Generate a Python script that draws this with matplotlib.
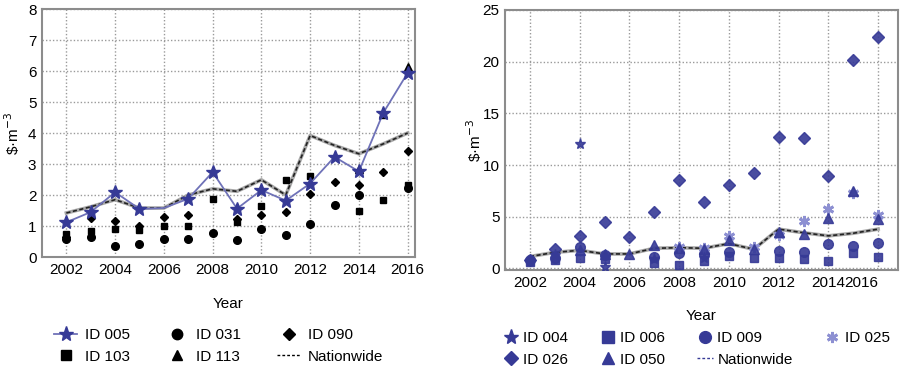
import matplotlib.pyplot as plt
import numpy as np
from matplotlib.lines import Line2D
from matplotlib.transforms import ScaledTranslation

plt.rcParams["font.family"] = ["Liberation Sans", "DejaVu Sans"]

nan = np.nan
years = np.arange(2002, 2017)

# --- left panel (black IDs + ID 005) ---
id005 = [1.12, 1.45, 2.09, 1.55, 1.58, 1.88, 2.74, 1.56, 2.16, 1.82, 2.37, 3.23, 2.76, 4.65, 5.94]
id031 = [0.58, 0.65, 0.34, 0.43, 0.59, 0.59, 0.77, 0.54, 0.90, 0.70, 1.08, 1.67, 2.01, nan, 2.22]
id090 = [0.65, 1.26, 1.17, 1.00, 1.29, 1.34, nan, 1.24, 1.37, 1.44, 2.03, 2.41, 2.33, 2.73, 3.43]
id103 = [0.75, 0.85, 0.90, 0.88, 1.01, 0.99, 1.88, 1.12, 1.63, 2.50, 2.62, nan, 1.47, 1.83, 2.33]
id113 = [nan, nan, nan, nan, nan, nan, nan, nan, nan, nan, nan, nan, 2.85, 4.60, 6.13]
nation_left = [1.42, 1.62, 1.85, 1.58, 1.58, 2.00, 2.20, 2.12, 2.49, 2.00, 3.92, 3.60, 3.33, 3.65, 4.00]

# --- right panel (blue IDs) ---
id004 = [0.7, 1.3, 12.0, 0.1, nan, 0.9, nan, 1.0, nan, nan, nan, nan, nan, nan, nan]
id006 = [0.6, 0.8, 1.0, 0.9, nan, 0.5, 0.3, 0.7, 1.2, 1.0, 1.0, 0.9, 0.7, 1.5, 1.1]
id009 = [0.8, 1.0, 2.1, 1.3, nan, 1.1, 1.5, 1.4, 1.6, nan, 1.7, 1.6, 2.4, 2.2, 2.5]
id025 = [nan, nan, nan, nan, nan, nan, 2.1, 2.0, 3.1, 2.1, 3.2, 4.6, 5.7, 7.3, 5.2]
id026 = [0.8, 1.9, 3.1, 4.5, 3.0, 5.5, 8.6, 6.4, 8.1, 9.2, 12.7, 12.6, 8.9, 20.2, 22.4]
id050 = [nan, nan, 1.8, 1.4, 1.4, 2.3, 2.0, 1.9, 2.7, 1.9, 3.5, 3.3, 4.9, 7.5, 4.8]
nation_right = [1.15, 1.55, 1.75, 1.4, 1.4, 1.95, 2.0, 1.95, 2.4, 1.85, 3.8, 3.45, 3.15, 3.4, 3.8]

x_ticks = np.arange(2002, 2017, 2)
left_yticks = np.arange(0, 9, 1)
right_yticks = np.arange(0, 26, 5)

NAVY = "#363a96"
STAR_LINE = "#6f72b8"
LIGHT = "#8d90d2"
GRID = "#9a9a9a"
FS = 11


def style_axes(ax):
    ax.grid(True, linestyle=(0, (1, 1.5)), color=GRID, linewidth=1.0)
    ax.set_axisbelow(True)
    for s in ax.spines.values():
        s.set_color("#8c8c8c")
        s.set_linewidth(1.5)
    ax.tick_params(length=0, labelsize=FS, pad=4)


def nationwide(ax, y):
    ax.plot(years, y, color="#a8a8a8", linewidth=2.6, zorder=2)
    ax.plot(years, y, color="#222222", linewidth=1.2, dashes=(2.5, 1.5), zorder=3)


fig = plt.figure(figsize=(9.07, 3.69), dpi=100)

# ============================================================
# Left panel
# ============================================================
ax1 = fig.add_axes([0.0463, 0.3035, 0.4112, 0.672])
style_axes(ax1)
nationwide(ax1, nation_left)
ax1.plot(years, id031, "o", color="black", markersize=5.5, zorder=4)
ax1.plot(years, id090, "D", color="black", markersize=4.5, zorder=4)
ax1.plot(years, id103, "s", color="black", markersize=4.5, zorder=4)
ax1.plot(years, id113, "^", color="black", markersize=6, zorder=4)
# 2006 star is hidden under the nationwide line in the original
star_idx = [i for i in range(len(years)) if years[i] != 2006]
ax1.plot(years, id005, "-*", color=STAR_LINE, markerfacecolor=NAVY, markeredgecolor=NAVY,
         linewidth=1.3, markersize=10, markevery=star_idx, zorder=5)

ax1.set_xlim(2001.0, 2016.3)
ax1.set_ylim(0, 8)
ax1.set_xticks(x_ticks)
ax1.set_yticks(left_yticks)
ax1.set_xlabel("Year", fontsize=FS, labelpad=15)
ax1.set_ylabel("\\$·m$^{-3}$", fontsize=FS, labelpad=4)

h1 = [
    Line2D([], [], color=STAR_LINE, marker="*", markerfacecolor=NAVY, markeredgecolor=NAVY,
           markersize=11, linewidth=1.3, label="ID 005"),
    Line2D([], [], color="black", marker="s", linestyle="none", markersize=6.5, label="ID 103"),
    Line2D([], [], color="black", marker="o", linestyle="none", markersize=7.5, label="ID 031"),
    Line2D([], [], color="black", marker="^", linestyle="none", markersize=7.5, label="ID 113"),
    Line2D([], [], color="black", marker="D", linestyle="none", markersize=6, label="ID 090"),
    Line2D([], [], color="black", linewidth=1.0, dashes=(2, 1.5), label="Nationwide"),
]
fig.legend(handles=h1, ncol=3, loc="center", bbox_to_anchor=(0.241, 0.063), frameon=False,
           fontsize=FS, handlelength=1.5, handletextpad=0.5, columnspacing=2.35,
           labelspacing=0.5, borderpad=0)

# ============================================================
# Right panel
# ============================================================
ax2 = fig.add_axes([0.5568, 0.267, 0.4333, 0.706])
style_axes(ax2)
nationwide(ax2, nation_right)
ax2.plot(years, id006, "s", color=NAVY, markersize=6, alpha=0.9, zorder=4)
ax2.plot(years, id009, "o", color=NAVY, markersize=7, alpha=0.9, zorder=4)
ax2.plot(years, id025, marker=(6, 2, 0), linestyle="none", color=LIGHT, markersize=8,
         markeredgewidth=2, zorder=4)
ax2.plot(years, id050, "^", color=NAVY, markersize=7, alpha=0.9, zorder=4)
ax2.plot(years, id026, "D", color=NAVY, markersize=6, alpha=0.9, zorder=4)
ax2.plot(years, id004, "*", color=NAVY, markersize=8, alpha=0.9, zorder=4)

ax2.set_xlim(2001.0, 2016.8)
ax2.set_ylim(-0.2, 25)
ax2.set_xticks(x_ticks)
ax2.set_yticks(right_yticks)
ax2.set_xlabel("Year", fontsize=FS, labelpad=14)
ax2.set_ylabel("\\$·m$^{-3}$", fontsize=FS, labelpad=-1)
# last year label sits left of its gridline in the original
last = ax2.get_xticklabels()[-1]
last.set_transform(last.get_transform() + ScaledTranslation(-0.17, 0, fig.dpi_scale_trans))

h2 = [
    Line2D([], [], color=NAVY, marker="*", linestyle="none", markersize=11, label="ID 004"),
    Line2D([], [], color=NAVY, marker="D", linestyle="none", markersize=7, label="ID 026"),
    Line2D([], [], color=NAVY, marker="s", linestyle="none", markersize=8.5, label="ID 006"),
    Line2D([], [], color=NAVY, marker="^", linestyle="none", markersize=8.5, label="ID 050"),
    Line2D([], [], color=NAVY, marker="o", linestyle="none", markersize=8.5, label="ID 009"),
    Line2D([], [], color=NAVY, linewidth=1.0, dashes=(2, 1.5), label="Nationwide"),
    Line2D([], [], color=LIGHT, marker=(6, 2, 0), linestyle="none", markersize=8,
           markeredgewidth=2, label="ID 025"),
]
fig.legend(handles=h2, ncol=4, loc="center", bbox_to_anchor=(0.768, 0.055), frameon=False,
           fontsize=FS, handlelength=1.0, handletextpad=0.3, columnspacing=2.1,
           labelspacing=0.5, borderpad=0)

fig.savefig("out.png", dpi=100)
